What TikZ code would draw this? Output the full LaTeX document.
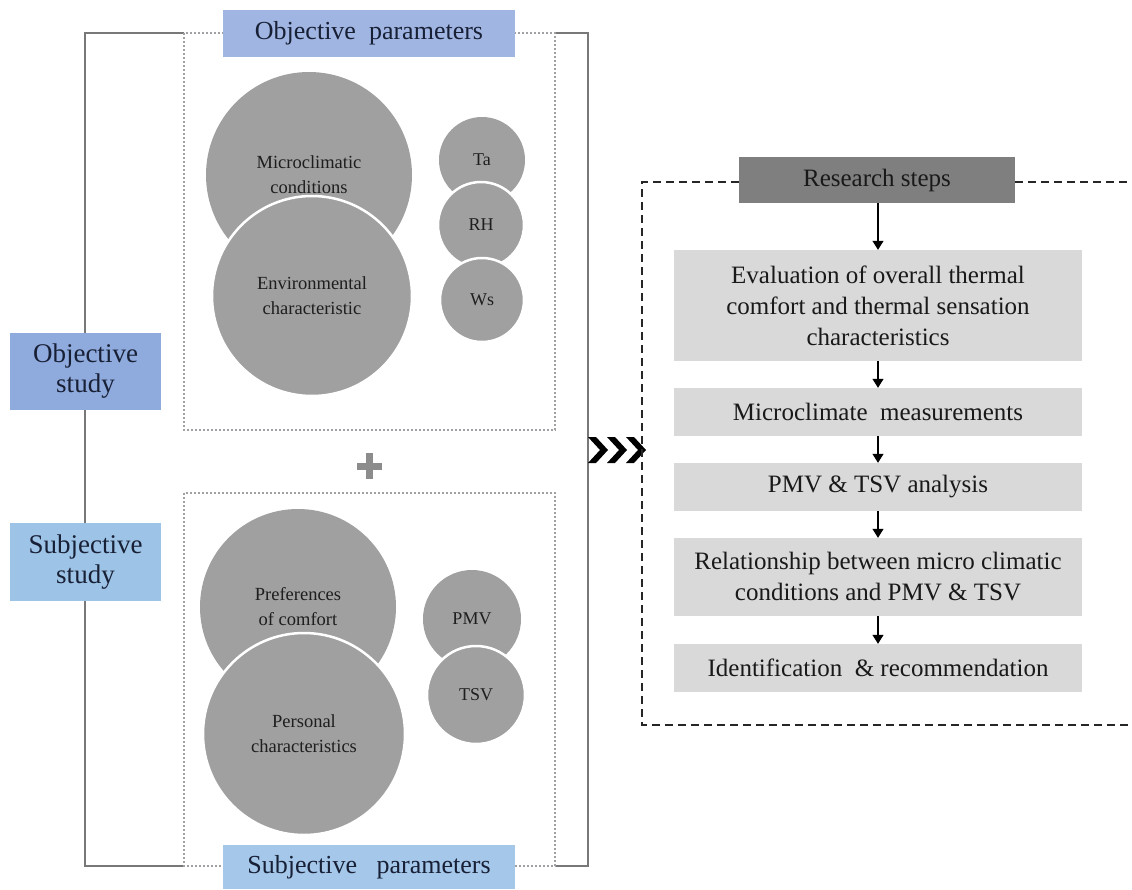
\documentclass[tikz,border=0pt]{standalone}
\usepackage{fontspec}
\setmainfont{Liberation Serif}
\newfontfamily\tnr{Liberation Serif}
\usetikzlibrary{arrows.meta}
\definecolor{objpar}{RGB}{160,181,226}
\definecolor{objstu}{RGB}{143,170,220}
\definecolor{subpar}{RGB}{164,199,234}
\definecolor{substu}{RGB}{157,195,230}
\definecolor{navy}{RGB}{24,32,54}
\definecolor{circfill}{RGB}{160,160,160}
\definecolor{circtext}{RGB}{30,30,30}
\definecolor{stepfill}{RGB}{217,217,217}
\definecolor{headfill}{RGB}{127,127,127}
\definecolor{framegray}{RGB}{120,120,120}
\definecolor{dotgray}{RGB}{160,160,165}
\tikzset{
  bluebox/.style={draw=none, inner sep=0pt, text=navy, align=center,
    font=\tnr\fontsize{27}{30}\selectfont},
  bigc/.style={circle, fill=circfill, inner sep=0pt, text=circtext, align=center,
    font=\tnr\fontsize{18.5}{25}\selectfont},
  smallc/.style={circle, fill=circfill, inner sep=0pt, text=circtext, align=center,
    font=\tnr\fontsize{18}{20}\selectfont},
  overc/.style={draw=white, line width=2.5pt},
  stepbox/.style={fill=stepfill, draw=none, minimum width=408pt, inner sep=0pt,
    align=center, text=black!90, font=\tnr\fontsize{25}{31}\selectfont},
  headbox/.style={fill=headfill, draw=none, minimum width=276pt, minimum height=46pt,
    inner sep=0pt, text=black!90, font=\tnr\fontsize{25}{30}\selectfont},
  frameline/.style={draw=framegray, line width=1.6pt},
  dotline/.style={draw=dotgray, line width=1.3pt, dash pattern=on 1.6pt off 2.4pt},
  dashline/.style={draw=black!85, line width=1.8pt, dash pattern=on 8pt off 5pt},
  steparrow/.style={draw=black, line width=1.2pt, -{Triangle[length=9pt,width=11pt]}},
  chev/.style={fill=black, draw=none}
}
\begin{document}
\begin{tikzpicture}[x=1pt,y=-1pt]
\useasboundingbox (0,0) rectangle (1132,889);
\fill[white] (0,0) rectangle (1132,889);

% outer solid frame
\draw[frameline] (184,33) -- (85,33) -- (85,866) -- (184,866);
\draw[frameline] (555,33) -- (588,33) -- (588,866) -- (555,866);
% dotted inner boxes
\draw[dotline] (184,33) rectangle (555,430);
\draw[dotline] (184,493) rectangle (555,866);

% blue boxes
\node[bluebox, fill=objpar, minimum width=292pt, minimum height=47pt,
  font=\tnr\fontsize{26}{28}\selectfont] (objpar) at (369,33.5) {Objective\ \ parameters};
\node[bluebox, fill=subpar, minimum width=292pt, minimum height=44pt,
  font=\tnr\fontsize{26}{28}\selectfont] (subpar) at (369,867) {Subjective\ \ \ parameters};
\node[bluebox, fill=objstu, minimum width=151pt, minimum height=77pt] (objstu) at (85.5,371.5) {Objective\\study};
\node[bluebox, fill=substu, minimum width=151pt, minimum height=78pt] (substu) at (85.5,562) {Subjective\\study};

% top circles
\node[bigc, minimum size=206pt] (micro) at (309,175) {Microclimatic\\conditions};
\node[bigc, overc, minimum size=200pt] (env) at (312,296) {Environmental\\characteristic};
\node[smallc, minimum size=86pt] (ta) at (482,160) {Ta};
\node[smallc, overc, minimum size=86pt] (rh) at (481,225) {RH};
\node[smallc, overc, minimum size=84pt] (ws) at (482,300) {Ws};

% plus sign
\draw[draw=black!45, line width=7pt] (357,466) -- (382,466) (369.5,453) -- (369.5,479);

% bottom circles
\node[bigc, minimum size=196pt] (pref) at (298,607) {Preferences\\of comfort};
\node[bigc, overc, minimum size=202pt] (pers) at (304,734) {Personal\\characteristics};
\node[smallc, minimum size=98pt] (pmv) at (472,619) {PMV};
\node[smallc, overc, minimum size=98pt] (tsv) at (476,695) {TSV};

% chevrons
\foreach \x in {588,607,626}{
  \fill[chev] (\x,437) -- (\x+8,437) -- (\x+20,450) -- (\x+8,463) -- (\x,463) -- (\x+12,450) -- cycle;
}

% research steps
\node[headbox] (rs) at (877,180) {Research steps};
\node[stepbox, minimum height=111pt] (s1) at (878,305.5) {Evaluation of overall thermal\\comfort and thermal sensation\\characteristics};
\node[stepbox, minimum height=48pt] (s2) at (878,412) {Microclimate\ \ measurements};
\node[stepbox, minimum height=48pt] (s3) at (878,487) {PMV \& TSV analysis};
\node[stepbox, minimum height=78pt] (s4) at (878,577) {Relationship between micro climatic\\conditions and PMV \& TSV};
\node[stepbox, minimum height=48pt] (s5) at (878,668) {Identification\ \ \& recommendation};

% dashed frame
\coordinate (dtl) at (642,182);
\coordinate (dbl) at (642,725);
\coordinate (dbr) at (1132,725);
\coordinate (dtr) at (1132,182);
\draw[dashline] (rs.west |- dtl) -- (dtl) -- (dbl) -- (dbr);
\draw[dashline] (rs.east |- dtr) -- (dtr);

% arrows
\draw[steparrow] (rs.south -| s1.north) -- (s1.north);
\draw[steparrow] (s1) -- (s2);
\draw[steparrow] (s2) -- (s3);
\draw[steparrow] (s3) -- (s4);
\draw[steparrow] (s4) -- (s5);
\end{tikzpicture}
\end{document}
